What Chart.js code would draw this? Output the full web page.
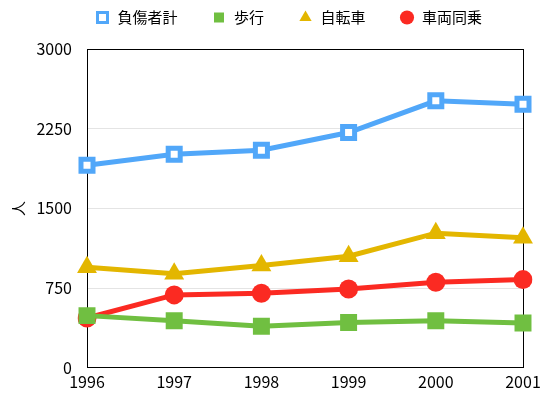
<!DOCTYPE html>
<html>
<head>
<meta charset="utf-8">
<script src="https://cdn.jsdelivr.net/npm/chart.js@4/dist/chart.umd.min.js"></script>
<style>
  html, body { margin: 0; padding: 0; background: #fff; }
  #wrap { width: 550px; height: 398px; }
</style>
</head>
<body>
<div id="wrap"><canvas id="chart"></canvas></div>
<script>
const years = ['1996', '1997', '1998', '1999', '2000', '2001'];
const injured = [1906, 2009, 2047, 2214, 2512, 2481];   // 負傷者計
const walking = [491, 443, 390, 427, 443, 422];        // 歩行
const bicycle = [946, 884, 962, 1050, 1267, 1224];     // 自転車
const passenger = [469, 686, 701, 742, 805, 830];      // 車両同乗
const yTicks = [0, 750, 1500, 2250, 3000];

const FONT = '"Noto Sans CJK JP", "Noto Sans", sans-serif';
const frameBorder = { display: true, color: '#000', width: 1 };

// legend: wide gaps between items but a short box
const legendSpacing = {
  id: 'legendSpacing',
  afterInit(chart) {
    const lg = chart.legend;
    const fit = lg.fit;
    lg.fit = function () { fit.call(this); this.height = 49; };
    const draw = lg.draw;
    lg.draw = function () {
      const t = this.top, l = this.left;
      this.top = t - 24;
      this.left = l + 50;
      draw.call(this);
      this.top = t;
      this.left = l;
    };
  }
};

const ctx = document.getElementById('chart').getContext('2d');
new Chart(ctx, {
  type: 'line',
  data: {
    labels: years,
    datasets: [
      {
        label: '負傷者計', data: injured,
        borderColor: '#51A7F9', backgroundColor: '#fff', borderWidth: 5,
        pointStyle: 'rect', pointRadius: 8.5, pointBorderWidth: 5,
        pointBackgroundColor: '#fff', pointBorderColor: '#51A7F9'
      },
      {
        label: '歩行', data: walking,
        borderColor: '#70BF41', backgroundColor: '#70BF41', borderWidth: 5,
        pointStyle: 'rect', pointRadius: 12, pointBorderWidth: 0,
        pointBackgroundColor: '#70BF41'
      },
      {
        label: '自転車', data: bicycle,
        borderColor: '#E3B600', backgroundColor: '#E3B600', borderWidth: 5,
        pointStyle: 'triangle', pointRadius: 11.5, pointBorderWidth: 0,
        pointBackgroundColor: '#E3B600'
      },
      {
        label: '車両同乗', data: passenger,
        borderColor: '#FB2A22', backgroundColor: '#FB2A22', borderWidth: 5,
        pointStyle: 'circle', pointRadius: 9.5, pointBorderWidth: 0,
        pointBackgroundColor: '#FB2A22'
      }
    ]
  },
  options: {
    responsive: true,
    maintainAspectRatio: false,
    animation: false,
    devicePixelRatio: 1,
    layout: { padding: { left: 4, right: 27, bottom: 1 } },
    plugins: {
      tooltip: { enabled: false },
      legend: {
        position: 'top',
        labels: {
          usePointStyle: true,
          boxHeight: 10,
          padding: 34,
          color: '#000',
          font: { family: FONT, size: 15 },
          generateLabels(chart) {
            const items = Chart.defaults.plugins.legend.labels.generateLabels(chart);
            items.forEach(it => { it.lineWidth = it.datasetIndex === 0 ? 3 : 0; });
            return items;
          }
        }
      }
    },
    scales: {
      x: {
        type: 'category',
        offset: false,
        grid: { display: false, drawTicks: false },
        border: frameBorder,
        ticks: { color: '#000', padding: 5, maxRotation: 0, font: { family: FONT, size: 16 } }
      },
      x2: {
        type: 'category',
        position: 'top',
        offset: false,
        grid: { display: false, drawTicks: false },
        border: frameBorder,
        ticks: { display: false },
        afterFit(axis) { axis.height = 0; }
      },
      y: {
        min: 0, max: 3000,
        afterBuildTicks(axis) { axis.ticks = yTicks.map(v => ({ value: v })); },
        afterFit(axis) { axis.width = 83; },
        grid: {
          drawTicks: false,
          color: c => (c.tick && (c.tick.value === 0 || c.tick.value === 3000)) ? 'rgba(0,0,0,0)' : '#e4e4e4',
          lineWidth: 1
        },
        border: frameBorder,
        ticks: {
          color: '#000', padding: 15, font: { family: FONT, size: 16 },
          callback: v => String(v)
        },
        title: {
          display: true, text: '人', color: '#000',
          padding: { top: 5, bottom: 0 },
          font: { family: FONT, size: 15 }
        }
      },
      y2: {
        position: 'right',
        min: 0, max: 3000,
        grid: { display: false, drawTicks: false },
        border: frameBorder,
        ticks: { display: false },
        afterFit(axis) { axis.width = 0; }
      }
    }
  },
  plugins: [legendSpacing]
});
</script>
</body>
</html>
